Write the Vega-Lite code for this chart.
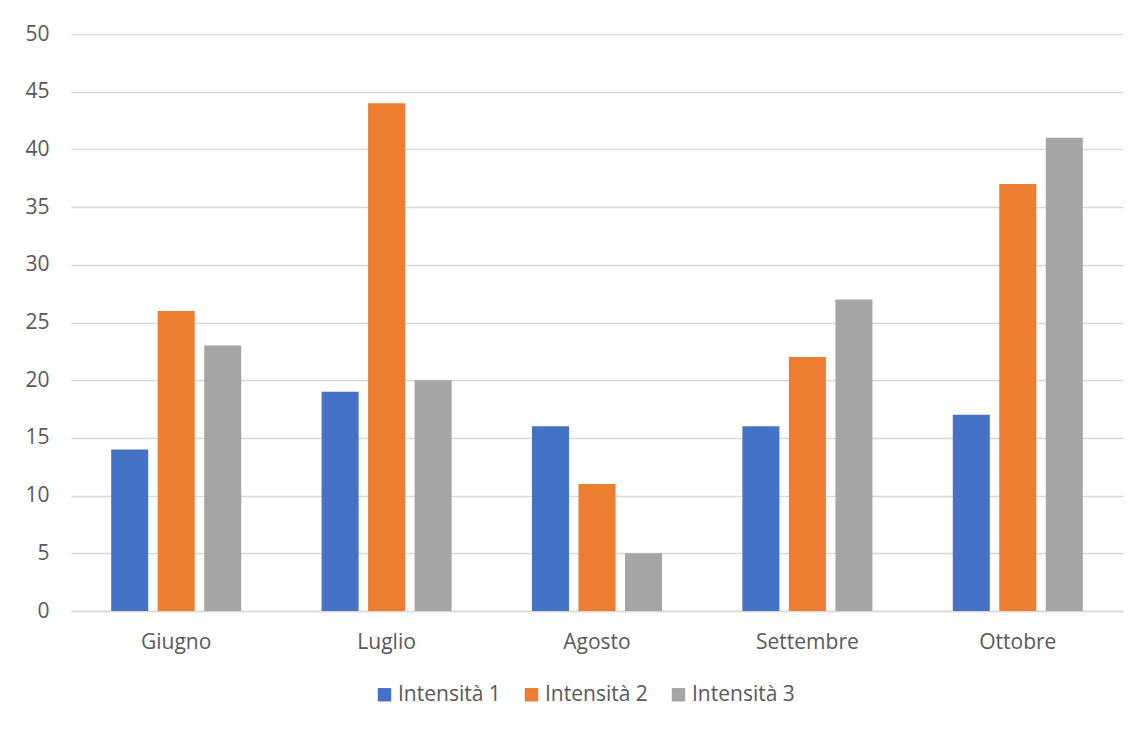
{
  "$schema": "https://vega.github.io/schema/vega-lite/v6.json",
  "width": 1052,
  "height": 577,
  "autosize": {"type": "none"},
  "padding": {"left": 71, "top": 34, "right": 21, "bottom": 119},
  "background": "white",
  "config": {
    "font": "Open Sans",
    "view": {"stroke": null}
  },
  "data": {
    "values": [
      {"mese": "Giugno", "serie": "Intensità 1", "valore": 14},
      {"mese": "Giugno", "serie": "Intensità 2", "valore": 26},
      {"mese": "Giugno", "serie": "Intensità 3", "valore": 23},
      {"mese": "Luglio", "serie": "Intensità 1", "valore": 19},
      {"mese": "Luglio", "serie": "Intensità 2", "valore": 44},
      {"mese": "Luglio", "serie": "Intensità 3", "valore": 20},
      {"mese": "Agosto", "serie": "Intensità 1", "valore": 16},
      {"mese": "Agosto", "serie": "Intensità 2", "valore": 11},
      {"mese": "Agosto", "serie": "Intensità 3", "valore": 5},
      {"mese": "Settembre", "serie": "Intensità 1", "valore": 16},
      {"mese": "Settembre", "serie": "Intensità 2", "valore": 22},
      {"mese": "Settembre", "serie": "Intensità 3", "valore": 27},
      {"mese": "Ottobre", "serie": "Intensità 1", "valore": 17},
      {"mese": "Ottobre", "serie": "Intensità 2", "valore": 37},
      {"mese": "Ottobre", "serie": "Intensità 3", "valore": 41}
    ]
  },
  "mark": {"type": "bar"},
  "encoding": {
    "x": {
      "field": "mese",
      "type": "nominal",
      "sort": ["Giugno", "Luglio", "Agosto", "Settembre", "Ottobre"],
      "scale": {"paddingInner": 0.382, "paddingOuter": 0.191},
      "axis": {
        "title": null,
        "labelAngle": 0,
        "labelFontSize": 21,
        "labelColor": "#595959",
        "labelPadding": 20,
        "ticks": false,
        "domainColor": "#D9D9D9",
        "domainWidth": 1.5,
        "grid": false
      }
    },
    "xOffset": {
      "field": "serie",
      "type": "nominal",
      "scale": {"paddingInner": 0.204, "paddingOuter": 0}
    },
    "y": {
      "field": "valore",
      "type": "quantitative",
      "scale": {"domain": [0, 50], "nice": false},
      "axis": {
        "title": null,
        "values": [0, 5, 10, 15, 20, 25, 30, 35, 40, 45, 50],
        "labelFontSize": 21,
        "labelColor": "#595959",
        "labelPadding": 22,
        "ticks": false,
        "domain": false,
        "gridColor": "#D9D9D9",
        "gridWidth": 1.5
      }
    },
    "color": {
      "field": "serie",
      "type": "nominal",
      "scale": {
        "domain": ["Intensità 1", "Intensità 2", "Intensità 3"],
        "range": ["#4472C4", "#ED7D31", "#A5A5A5"]
      },
      "legend": {
        "title": null,
        "orient": "none",
        "legendX": 303,
        "legendY": 650,
        "direction": "horizontal",
        "symbolType": "square",
        "symbolSize": 180,
        "symbolStrokeWidth": 0,
        "labelFontSize": 21,
        "labelColor": "#595959",
        "labelOffset": 3,
        "columnPadding": 20
      }
    }
  }
}
